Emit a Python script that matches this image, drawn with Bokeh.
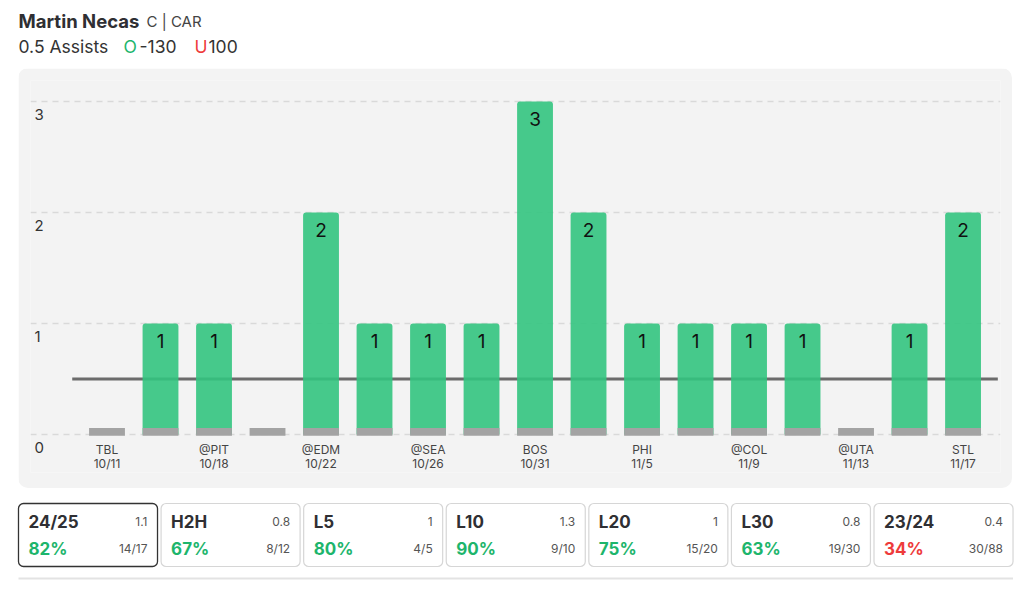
from bokeh.plotting import figure
from bokeh.layouts import column
from bokeh.models import (Range1d, FixedTicker, ColumnDataSource, LabelSet)
from bokeh.core.properties import value
from bokeh.embed import file_html
from bokeh.resources import INLINE

# ---------------- data ----------------
player = "Martin Necas"
position_team = "C | CAR"
prop_label = "0.5 Assists"
over_odds = "-130"
under_odds = "100"
line_value = 0.5

assists = [0, 1, 1, 0, 2, 1, 1, 1, 3, 2, 1, 1, 1, 1, 0, 1, 2]
tick_games = [0, 2, 4, 6, 8, 10, 12, 14, 16]
tick_opp = ["TBL", "@PIT", "@EDM", "@SEA", "BOS", "PHI", "@COL", "@UTA", "STL"]
tick_date = ["10/11", "10/18", "10/22", "10/26", "10/31", "11/5", "11/9", "11/13", "11/17"]
y_ticks = [0, 1, 2, 3]

card_titles = ["24/25", "H2H", "L5", "L10", "L20", "L30", "23/24"]
card_avgs = ["1.1", "0.8", "1", "1.3", "1", "0.8", "0.4"]
card_pcts = ["82%", "67%", "80%", "90%", "75%", "63%", "34%"]
card_fracs = ["14/17", "8/12", "4/5", "9/10", "15/20", "19/30", "30/88"]
card_hit = [True, True, True, True, True, True, False]

# ---------------- style ----------------
FONT = "Inter"
GREEN_BAR = "#33c47f"
GREEN_TXT = "#1db56c"
RED = "#ee3b3b"
DARK = "#2f2f33"
PANEL = "#f3f3f3"


def bare(fig, bg="white"):
    fig.grid.visible = False
    fig.outline_line_color = None
    fig.background_fill_color = bg
    fig.border_fill_color = bg
    if "frame_align" in fig.properties():
        fig.frame_align = False


# ---------------- header ----------------
hdr = figure(width=1024, height=68, x_range=Range1d(0, 1024), y_range=Range1d(68, 0),
             output_backend="svg", toolbar_location=None,
             x_axis_location=None, y_axis_location=None,
             min_border=0, min_border_left=0, min_border_right=0,
             min_border_top=0, min_border_bottom=0)
bare(hdr)


def htext(x, y, t, size, color, style="normal"):
    hdr.text(x=[x], y=[y], text=[t], text_font=value(FONT), text_font_size=f"{size}px",
             text_color=color, text_font_style=style, text_baseline="middle", text_align="left")


htext(18, 20, player, 18.5, DARK, "bold")
htext(146, 21, position_team, 15, "#444444")
htext(18, 46, prop_label, 17.5, "#333333")
htext(123, 46, "O", 17.5, GREEN_TXT)
htext(139, 46, over_odds, 17.5, "#333333")
htext(194, 46, "U", 17.5, RED)
htext(208, 46, under_odds, 17.5, "#333333")

# ---------------- chart ----------------
n = len(assists)
X_START, X_END = -1.43, n - 1 + 0.70
PX_PER_UNIT = 53.5
p = figure(width=994, height=420, x_range=Range1d(X_START, X_END), y_range=Range1d(-0.342, 3.19),
           output_backend="svg", toolbar_location=None,
           x_axis_location=None, y_axis_location=None,
           min_border_left=12, min_border_right=12, min_border_top=12, min_border_bottom=16)
p.margin = (0, 0, 0, 18)
p.styles = {"border-radius": "10px", "overflow": "hidden"}
bare(p, PANEL)
p.ygrid.visible = True
p.ygrid.ticker = FixedTicker(ticks=y_ticks)
p.ygrid.grid_line_color = "#d9d9d9"
p.ygrid.grid_line_dash = "6 5"
p.ygrid.grid_line_width = 1.5

xs = list(range(n))
src = ColumnDataSource(dict(x=xs, y=assists, lab=[str(v) if v > 0 else "" for v in assists]))

# threshold line
p.segment(x0=[-0.65], x1=[n - 1 + 0.65], y0=[line_value], y1=[line_value],
          line_color="#6b6b6b", line_width=3)

p.vbar(x="x", top="y", bottom=0, width=0.67, source=src, fill_color=GREEN_BAR,
       fill_alpha=0.9, line_color=None, border_radius=(3, 3, 0, 0))
p.vbar(x="x", top=0.06, bottom=-0.01, width=0.67, source=src, fill_color="#a3a3a3",
       line_color=None)

vals = LabelSet(x="x", y="y", text="lab", source=src, text_align="center", text_baseline="middle",
                y_offset=-17, text_font=value(FONT), text_font_size="19px", text_color="#111111")
p.add_layout(vals)

ysrc = ColumnDataSource(dict(x=[X_START + 4 / PX_PER_UNIT] * len(y_ticks), y=y_ticks,
                             t=[str(v) for v in y_ticks]))
ylabs = LabelSet(x="x", y="y", text="t", source=ysrc, text_align="left", text_baseline="middle",
                 y_offset=-13, text_font=value(FONT), text_font_size="15px", text_color="#333333")
p.add_layout(ylabs)

tsrc = ColumnDataSource(dict(x=tick_games, y=[0] * len(tick_games), opp=tick_opp, d=tick_date))
for col, off in (("opp", -15), ("d", -29)):
    p.add_layout(LabelSet(x="x", y="y", text=col, source=tsrc, text_align="center",
                          text_baseline="middle", y_offset=off, text_font=value(FONT),
                          text_font_size="12px", text_color="#444444"))

# ---------------- cards ----------------
nc = len(card_titles)
cards = figure(width=1024, height=102, x_range=Range1d(-0.6137, 6.568), y_range=Range1d(102, 0),
               output_backend="svg", toolbar_location=None,
               x_axis_location=None, y_axis_location=None,
               min_border=0, min_border_left=0, min_border_right=0,
               min_border_top=0, min_border_bottom=0)
bare(cards)

ci = list(range(nc))
HALF = 0.4875
csrc = ColumnDataSource(dict(
    l=[i - HALF for i in ci], r=[i + HALF for i in ci],
    lc=["#333333"] + ["#d6d6d6"] * (nc - 1),
    lw=[1.3] + [1.2] * (nc - 1),
))
cards.quad(left="l", right="r", top=15, bottom=78, source=csrc, fill_color="white",
           line_color="lc", line_width="lw", border_radius=5)

cards.text(x=ci, y=[33] * nc, text=card_titles, x_offset=-59.5, text_align="left",
           text_baseline="middle", text_font=value(FONT), text_font_size="17px",
           text_font_style="bold", text_color=DARK)
cards.text(x=ci, y=[33] * nc, text=card_avgs, x_offset=59.5, text_align="right",
           text_baseline="middle", text_font=value(FONT), text_font_size="12px",
           text_color="#555555")
cards.text(x=ci, y=[60] * nc, text=card_pcts, x_offset=-59.5, text_align="left",
           text_baseline="middle", text_font=value(FONT), text_font_size="17px",
           text_font_style="bold", text_color=[GREEN_TXT if h else RED for h in card_hit])
cards.text(x=ci, y=[60] * nc, text=card_fracs, x_offset=59.5, text_align="right",
           text_baseline="middle", text_font=value(FONT), text_font_size="12px",
           text_color="#555555")
cards.segment(x0=[-HALF], x1=[nc - 1 + HALF], y0=[90], y1=[90], line_color="#e3e3e3", line_width=2)

layout = column(hdr, p, cards, spacing=0)
open("out.html", "w").write(file_html(layout, INLINE))
